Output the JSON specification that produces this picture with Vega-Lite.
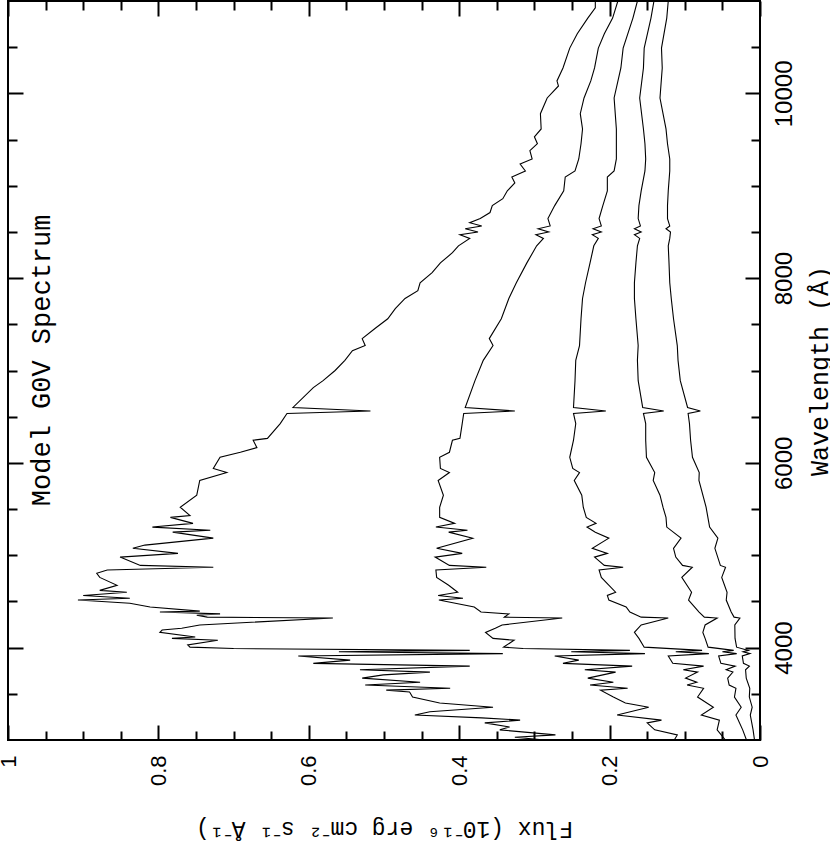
{
  "$schema": "https://vega.github.io/schema/vega-lite/v6.json",
  "width": 752,
  "height": 739,
  "autosize": "none",
  "padding": {"left": 8, "top": 1, "right": 70, "bottom": 104},
  "background": "white",
  "config": {
    "view": {"stroke": "black", "strokeWidth": 2},
    "axis": {"labelColor": "black", "tickColor": "black", "titleColor": "black", "grid": false}
  },
  "data": {
    "values": [
      {"s":1,"w":3000,"f":0.286},{"s":1,"w":3030,"f":0.326},{"s":1,"w":3055,"f":0.272},{"s":1,"w":3110,"f":0.346},{"s":1,"w":3140,"f":0.333},
      {"s":1,"w":3185,"f":0.366},{"s":1,"w":3215,"f":0.319},{"s":1,"w":3240,"f":0.370},{"s":1,"w":3270,"f":0.459},{"s":1,"w":3305,"f":0.439},
      {"s":1,"w":3355,"f":0.355},{"s":1,"w":3400,"f":0.426},{"s":1,"w":3465,"f":0.462},{"s":1,"w":3520,"f":0.466},{"s":1,"w":3540,"f":0.497},
      {"s":1,"w":3560,"f":0.412},{"s":1,"w":3595,"f":0.525},{"s":1,"w":3625,"f":0.452},{"s":1,"w":3670,"f":0.529},{"s":1,"w":3705,"f":0.501},
      {"s":1,"w":3735,"f":0.439},{"s":1,"w":3760,"f":0.532},{"s":1,"w":3800,"f":0.386},{"s":1,"w":3830,"f":0.594},{"s":1,"w":3865,"f":0.545},
      {"s":1,"w":3910,"f":0.614},{"s":1,"w":3935,"f":0.342},{"s":1,"w":3955,"f":0.560},{"s":1,"w":3970,"f":0.386},{"s":1,"w":3990,"f":0.700},
      {"s":1,"w":4005,"f":0.758},{"s":1,"w":4030,"f":0.761},{"s":1,"w":4080,"f":0.721},{"s":1,"w":4100,"f":0.782},{"s":1,"w":4115,"f":0.751},
      {"s":1,"w":4165,"f":0.798},{"s":1,"w":4190,"f":0.795},{"s":1,"w":4210,"f":0.769},{"s":1,"w":4245,"f":0.745},{"s":1,"w":4320,"f":0.568},
      {"s":1,"w":4330,"f":0.735},{"s":1,"w":4350,"f":0.749},{"s":1,"w":4365,"f":0.718},{"s":1,"w":4385,"f":0.798},{"s":1,"w":4395,"f":0.745},
      {"s":1,"w":4440,"f":0.811},{"s":1,"w":4480,"f":0.838},{"s":1,"w":4515,"f":0.907},{"s":1,"w":4535,"f":0.838},{"s":1,"w":4565,"f":0.900},
      {"s":1,"w":4600,"f":0.842},{"s":1,"w":4620,"f":0.878},{"s":1,"w":4675,"f":0.855},{"s":1,"w":4760,"f":0.878},{"s":1,"w":4805,"f":0.882},
      {"s":1,"w":4840,"f":0.868},{"s":1,"w":4870,"f":0.727},{"s":1,"w":4890,"f":0.824},{"s":1,"w":4980,"f":0.851},{"s":1,"w":5020,"f":0.774},
      {"s":1,"w":5075,"f":0.834},{"s":1,"w":5110,"f":0.818},{"s":1,"w":5185,"f":0.727},{"s":1,"w":5250,"f":0.781},{"s":1,"w":5270,"f":0.731},
      {"s":1,"w":5305,"f":0.808},{"s":1,"w":5345,"f":0.754},{"s":1,"w":5410,"f":0.784},{"s":1,"w":5430,"f":0.758},{"s":1,"w":5520,"f":0.771},
      {"s":1,"w":5650,"f":0.749},{"s":1,"w":5810,"f":0.745},{"s":1,"w":5895,"f":0.709},{"s":1,"w":5940,"f":0.727},{"s":1,"w":6060,"f":0.718},
      {"s":1,"w":6115,"f":0.691},{"s":1,"w":6165,"f":0.669},{"s":1,"w":6245,"f":0.674},{"s":1,"w":6265,"f":0.655},{"s":1,"w":6425,"f":0.638},
      {"s":1,"w":6535,"f":0.629},{"s":1,"w":6562,"f":0.518},{"s":1,"w":6600,"f":0.621},{"s":1,"w":6815,"f":0.594},{"s":1,"w":6890,"f":0.581},
      {"s":1,"w":7000,"f":0.565},{"s":1,"w":7110,"f":0.552},{"s":1,"w":7215,"f":0.542},{"s":1,"w":7270,"f":0.525},{"s":1,"w":7345,"f":0.529},
      {"s":1,"w":7455,"f":0.512},{"s":1,"w":7560,"f":0.495},{"s":1,"w":7670,"f":0.485},{"s":1,"w":7780,"f":0.472},{"s":1,"w":7865,"f":0.455},
      {"s":1,"w":7950,"f":0.452},{"s":1,"w":8060,"f":0.436},{"s":1,"w":8165,"f":0.425},{"s":1,"w":8275,"f":0.409},{"s":1,"w":8350,"f":0.401},
      {"s":1,"w":8430,"f":0.386},{"s":1,"w":8470,"f":0.399},{"s":1,"w":8500,"f":0.375},{"s":1,"w":8535,"f":0.392},{"s":1,"w":8565,"f":0.370},
      {"s":1,"w":8600,"f":0.386},{"s":1,"w":8645,"f":0.372},{"s":1,"w":8710,"f":0.359},{"s":1,"w":8785,"f":0.356},{"s":1,"w":8860,"f":0.342},
      {"s":1,"w":8945,"f":0.336},{"s":1,"w":9030,"f":0.326},{"s":1,"w":9095,"f":0.330},{"s":1,"w":9160,"f":0.312},{"s":1,"w":9235,"f":0.319},
      {"s":1,"w":9290,"f":0.303},{"s":1,"w":9380,"f":0.306},{"s":1,"w":9455,"f":0.296},{"s":1,"w":9530,"f":0.300},{"s":1,"w":9615,"f":0.291},
      {"s":1,"w":9780,"f":0.292},{"s":1,"w":9950,"f":0.283},{"s":1,"w":10080,"f":0.268},{"s":1,"w":10135,"f":0.270},{"s":1,"w":10275,"f":0.262},
      {"s":1,"w":10490,"f":0.253},{"s":1,"w":10645,"f":0.243},{"s":1,"w":10815,"f":0.229},{"s":1,"w":10925,"f":0.219},{"s":1,"w":11000,"f":0.219},

      {"s":2,"w":3000,"f":0.114},{"s":2,"w":3055,"f":0.110},{"s":2,"w":3110,"f":0.140},{"s":2,"w":3185,"f":0.150},{"s":2,"w":3215,"f":0.131},
      {"s":2,"w":3270,"f":0.190},{"s":2,"w":3355,"f":0.148},{"s":2,"w":3400,"f":0.179},{"s":2,"w":3465,"f":0.195},{"s":2,"w":3540,"f":0.212},
      {"s":2,"w":3560,"f":0.176},{"s":2,"w":3595,"f":0.226},{"s":2,"w":3625,"f":0.195},{"s":2,"w":3670,"f":0.229},{"s":2,"w":3735,"f":0.192},
      {"s":2,"w":3760,"f":0.233},{"s":2,"w":3800,"f":0.170},{"s":2,"w":3830,"f":0.262},{"s":2,"w":3865,"f":0.241},{"s":2,"w":3910,"f":0.273},
      {"s":2,"w":3935,"f":0.153},{"s":2,"w":3955,"f":0.251},{"s":2,"w":3970,"f":0.173},{"s":2,"w":3990,"f":0.315},{"s":2,"w":4005,"f":0.341},
      {"s":2,"w":4080,"f":0.327},{"s":2,"w":4100,"f":0.355},{"s":2,"w":4165,"f":0.365},{"s":2,"w":4210,"f":0.352},{"s":2,"w":4245,"f":0.343},
      {"s":2,"w":4320,"f":0.263},{"s":2,"w":4330,"f":0.340},{"s":2,"w":4365,"f":0.334},{"s":2,"w":4385,"f":0.371},{"s":2,"w":4440,"f":0.380},
      {"s":2,"w":4515,"f":0.427},{"s":2,"w":4535,"f":0.395},{"s":2,"w":4565,"f":0.428},{"s":2,"w":4600,"f":0.402},{"s":2,"w":4675,"f":0.414},
      {"s":2,"w":4760,"f":0.430},{"s":2,"w":4840,"f":0.431},{"s":2,"w":4870,"f":0.364},{"s":2,"w":4890,"f":0.413},{"s":2,"w":4980,"f":0.432},
      {"s":2,"w":5020,"f":0.396},{"s":2,"w":5075,"f":0.430},{"s":2,"w":5185,"f":0.382},{"s":2,"w":5250,"f":0.414},{"s":2,"w":5270,"f":0.389},
      {"s":2,"w":5305,"f":0.431},{"s":2,"w":5345,"f":0.406},{"s":2,"w":5410,"f":0.426},{"s":2,"w":5520,"f":0.426},{"s":2,"w":5650,"f":0.421},
      {"s":2,"w":5810,"f":0.428},{"s":2,"w":5895,"f":0.413},{"s":2,"w":5940,"f":0.425},{"s":2,"w":6060,"f":0.426},{"s":2,"w":6115,"f":0.413},
      {"s":2,"w":6245,"f":0.409},{"s":2,"w":6265,"f":0.399},{"s":2,"w":6425,"f":0.396},{"s":2,"w":6535,"f":0.394},{"s":2,"w":6562,"f":0.326},
      {"s":2,"w":6600,"f":0.392},{"s":2,"w":6890,"f":0.379},{"s":2,"w":7110,"f":0.368},{"s":2,"w":7270,"f":0.355},{"s":2,"w":7345,"f":0.360},
      {"s":2,"w":7560,"f":0.344},{"s":2,"w":7780,"f":0.334},{"s":2,"w":7950,"f":0.324},{"s":2,"w":8165,"f":0.310},{"s":2,"w":8350,"f":0.297},
      {"s":2,"w":8430,"f":0.288},{"s":2,"w":8470,"f":0.298},{"s":2,"w":8500,"f":0.281},{"s":2,"w":8535,"f":0.295},{"s":2,"w":8565,"f":0.279},
      {"s":2,"w":8645,"f":0.282},{"s":2,"w":8785,"f":0.273},{"s":2,"w":8945,"f":0.261},{"s":2,"w":9095,"f":0.259},{"s":2,"w":9160,"f":0.246},
      {"s":2,"w":9290,"f":0.241},{"s":2,"w":9455,"f":0.238},{"s":2,"w":9615,"f":0.236},{"s":2,"w":9780,"f":0.239},{"s":2,"w":9950,"f":0.234},
      {"s":2,"w":10135,"f":0.225},{"s":2,"w":10275,"f":0.220},{"s":2,"w":10490,"f":0.215},{"s":2,"w":10645,"f":0.207},{"s":2,"w":10815,"f":0.196},
      {"s":2,"w":11000,"f":0.189},

      {"s":3,"w":3000,"f":0.046},{"s":3,"w":3110,"f":0.057},{"s":3,"w":3215,"f":0.054},{"s":3,"w":3270,"f":0.078},{"s":3,"w":3355,"f":0.062},
      {"s":3,"w":3465,"f":0.083},{"s":3,"w":3560,"f":0.075},{"s":3,"w":3595,"f":0.097},{"s":3,"w":3625,"f":0.084},{"s":3,"w":3670,"f":0.099},
      {"s":3,"w":3735,"f":0.083},{"s":3,"w":3760,"f":0.102},{"s":3,"w":3800,"f":0.075},{"s":3,"w":3830,"f":0.116},{"s":3,"w":3910,"f":0.122},
      {"s":3,"w":3935,"f":0.068},{"s":3,"w":3955,"f":0.112},{"s":3,"w":3970,"f":0.077},{"s":3,"w":4005,"f":0.154},{"s":3,"w":4100,"f":0.161},
      {"s":3,"w":4165,"f":0.167},{"s":3,"w":4245,"f":0.158},{"s":3,"w":4320,"f":0.122},{"s":3,"w":4330,"f":0.158},{"s":3,"w":4385,"f":0.173},
      {"s":3,"w":4440,"f":0.178},{"s":3,"w":4515,"f":0.201},{"s":3,"w":4565,"f":0.203},{"s":3,"w":4600,"f":0.192},{"s":3,"w":4760,"f":0.211},
      {"s":3,"w":4840,"f":0.214},{"s":3,"w":4870,"f":0.182},{"s":3,"w":4890,"f":0.207},{"s":3,"w":4980,"f":0.220},{"s":3,"w":5020,"f":0.203},
      {"s":3,"w":5075,"f":0.223},{"s":3,"w":5185,"f":0.201},{"s":3,"w":5250,"f":0.219},{"s":3,"w":5305,"f":0.230},{"s":3,"w":5345,"f":0.218},
      {"s":3,"w":5410,"f":0.231},{"s":3,"w":5520,"f":0.235},{"s":3,"w":5650,"f":0.237},{"s":3,"w":5810,"f":0.247},{"s":3,"w":5895,"f":0.240},
      {"s":3,"w":5940,"f":0.249},{"s":3,"w":6060,"f":0.253},{"s":3,"w":6245,"f":0.248},{"s":3,"w":6425,"f":0.245},{"s":3,"w":6535,"f":0.248},
      {"s":3,"w":6562,"f":0.205},{"s":3,"w":6600,"f":0.248},{"s":3,"w":6890,"f":0.246},{"s":3,"w":7110,"f":0.245},{"s":3,"w":7270,"f":0.240},
      {"s":3,"w":7560,"f":0.238},{"s":3,"w":7780,"f":0.236},{"s":3,"w":7950,"f":0.232},{"s":3,"w":8165,"f":0.226},{"s":3,"w":8350,"f":0.221},
      {"s":3,"w":8430,"f":0.215},{"s":3,"w":8470,"f":0.223},{"s":3,"w":8500,"f":0.211},{"s":3,"w":8535,"f":0.222},{"s":3,"w":8565,"f":0.211},
      {"s":3,"w":8645,"f":0.214},{"s":3,"w":8785,"f":0.209},{"s":3,"w":8945,"f":0.203},{"s":3,"w":9095,"f":0.203},{"s":3,"w":9160,"f":0.194},
      {"s":3,"w":9290,"f":0.191},{"s":3,"w":9455,"f":0.191},{"s":3,"w":9615,"f":0.191},{"s":3,"w":9950,"f":0.194},{"s":3,"w":10275,"f":0.185},
      {"s":3,"w":10490,"f":0.182},{"s":3,"w":10815,"f":0.169},{"s":3,"w":11000,"f":0.163},

      {"s":4,"w":3000,"f":0.018},{"s":4,"w":3110,"f":0.023},{"s":4,"w":3270,"f":0.032},{"s":4,"w":3355,"f":0.025},{"s":4,"w":3465,"f":0.034},
      {"s":4,"w":3560,"f":0.032},{"s":4,"w":3595,"f":0.041},{"s":4,"w":3670,"f":0.043},{"s":4,"w":3735,"f":0.036},{"s":4,"w":3760,"f":0.045},
      {"s":4,"w":3800,"f":0.033},{"s":4,"w":3830,"f":0.052},{"s":4,"w":3910,"f":0.055},{"s":4,"w":3935,"f":0.031},{"s":4,"w":3955,"f":0.050},
      {"s":4,"w":3970,"f":0.035},{"s":4,"w":4005,"f":0.069},{"s":4,"w":4100,"f":0.073},{"s":4,"w":4165,"f":0.076},{"s":4,"w":4245,"f":0.073},
      {"s":4,"w":4320,"f":0.057},{"s":4,"w":4330,"f":0.074},{"s":4,"w":4385,"f":0.081},{"s":4,"w":4515,"f":0.095},{"s":4,"w":4600,"f":0.091},
      {"s":4,"w":4760,"f":0.104},{"s":4,"w":4870,"f":0.090},{"s":4,"w":4890,"f":0.103},{"s":4,"w":4980,"f":0.112},{"s":4,"w":5075,"f":0.115},
      {"s":4,"w":5185,"f":0.105},{"s":4,"w":5305,"f":0.124},{"s":4,"w":5410,"f":0.125},{"s":4,"w":5520,"f":0.129},{"s":4,"w":5650,"f":0.133},
      {"s":4,"w":5810,"f":0.142},{"s":4,"w":5895,"f":0.140},{"s":4,"w":6060,"f":0.151},{"s":4,"w":6245,"f":0.152},{"s":4,"w":6425,"f":0.152},
      {"s":4,"w":6535,"f":0.155},{"s":4,"w":6562,"f":0.128},{"s":4,"w":6600,"f":0.156},{"s":4,"w":6890,"f":0.162},{"s":4,"w":7110,"f":0.163},
      {"s":4,"w":7270,"f":0.162},{"s":4,"w":7560,"f":0.165},{"s":4,"w":7780,"f":0.167},{"s":4,"w":7950,"f":0.167},{"s":4,"w":8165,"f":0.165},
      {"s":4,"w":8350,"f":0.163},{"s":4,"w":8430,"f":0.160},{"s":4,"w":8470,"f":0.167},{"s":4,"w":8500,"f":0.158},{"s":4,"w":8535,"f":0.167},
      {"s":4,"w":8565,"f":0.159},{"s":4,"w":8645,"f":0.162},{"s":4,"w":8785,"f":0.161},{"s":4,"w":8945,"f":0.158},{"s":4,"w":9160,"f":0.153},
      {"s":4,"w":9290,"f":0.152},{"s":4,"w":9455,"f":0.153},{"s":4,"w":9615,"f":0.155},{"s":4,"w":9950,"f":0.160},{"s":4,"w":10275,"f":0.155},
      {"s":4,"w":10490,"f":0.154},{"s":4,"w":10815,"f":0.145},{"s":4,"w":11000,"f":0.141},

      {"s":5,"w":3000,"f":0.0073},{"s":5,"w":3110,"f":0.0092},{"s":5,"w":3270,"f":0.0129},{"s":5,"w":3355,"f":0.0104},{"s":5,"w":3465,"f":0.0142},
      {"s":5,"w":3560,"f":0.0136},{"s":5,"w":3670,"f":0.0183},{"s":5,"w":3760,"f":0.0192},{"s":5,"w":3800,"f":0.0141},{"s":5,"w":3830,"f":0.022},
      {"s":5,"w":3910,"f":0.0236},{"s":5,"w":3935,"f":0.0133},{"s":5,"w":3955,"f":0.0224},{"s":5,"w":3970,"f":0.0154},{"s":5,"w":4005,"f":0.0311},
      {"s":5,"w":4100,"f":0.0332},{"s":5,"w":4245,"f":0.0335},{"s":5,"w":4320,"f":0.0267},{"s":5,"w":4330,"f":0.0345},{"s":5,"w":4385,"f":0.0383},
      {"s":5,"w":4515,"f":0.0449},{"s":5,"w":4600,"f":0.0438},{"s":5,"w":4760,"f":0.0509},{"s":5,"w":4870,"f":0.0458},{"s":5,"w":4890,"f":0.0527},
      {"s":5,"w":5075,"f":0.060},{"s":5,"w":5185,"f":0.056},{"s":5,"w":5305,"f":0.067},{"s":5,"w":5520,"f":0.0717},{"s":5,"w":5810,"f":0.0812},
      {"s":5,"w":5895,"f":0.0808},{"s":5,"w":6060,"f":0.0898},{"s":5,"w":6245,"f":0.0923},{"s":5,"w":6425,"f":0.0938},{"s":5,"w":6535,"f":0.0956},
      {"s":5,"w":6562,"f":0.0793},{"s":5,"w":6600,"f":0.0963},{"s":5,"w":6890,"f":0.106},{"s":5,"w":7110,"f":0.109},{"s":5,"w":7270,"f":0.110},
      {"s":5,"w":7560,"f":0.115},{"s":5,"w":7780,"f":0.118},{"s":5,"w":7950,"f":0.120},{"s":5,"w":8165,"f":0.121},{"s":5,"w":8350,"f":0.122},
      {"s":5,"w":8430,"f":0.120},{"s":5,"w":8500,"f":0.119},{"s":5,"w":8535,"f":0.125},{"s":5,"w":8565,"f":0.120},{"s":5,"w":8645,"f":0.123},
      {"s":5,"w":8785,"f":0.123},{"s":5,"w":8945,"f":0.122},{"s":5,"w":9160,"f":0.120},{"s":5,"w":9290,"f":0.120},{"s":5,"w":9455,"f":0.123},
      {"s":5,"w":9615,"f":0.125},{"s":5,"w":9950,"f":0.133},{"s":5,"w":10275,"f":0.130},{"s":5,"w":10490,"f":0.131},{"s":5,"w":10815,"f":0.124},
      {"s":5,"w":11000,"f":0.122}
    ]
  },
  "resolve": {"axis": {"x": "independent", "y": "independent"}},
  "layer": [
    {
      "mark": {"type": "line", "color": "black", "strokeWidth": 1.1, "clip": true},
      "encoding": {
        "x": {
          "field": "f", "type": "quantitative",
          "scale": {"domain": [0, 1], "reverse": true, "nice": false, "zero": false},
          "axis": {
            "orient": "bottom", "values": [0, 0.2, 0.4, 0.6, 0.8, 1], "format": "~g",
            "ticks": false, "tickSize": 0, "domain": false,
            "labelAngle": 270, "labelAlign": "right", "labelBaseline": "middle",
            "labelPadding": 15, "labelFontSize": 22, "labelFont": "Liberation Sans",
            "labelFlush": false, "labelOverlap": false,
            "title": "Flux  (10⁻¹⁶ erg cm⁻² s⁻¹  Å⁻¹)",
            "titleAngle": 180, "titleBaseline": "bottom", "titleFont": "Liberation Mono",
            "titleFontSize": 23, "titleFontWeight": "normal", "titlePadding": 31
          }
        },
        "y": {
          "field": "w", "type": "quantitative",
          "scale": {"domain": [3000, 11000], "nice": false, "zero": false},
          "axis": {
            "orient": "right", "values": [4000, 6000, 8000, 10000], "format": "d",
            "ticks": false, "tickSize": 0, "domain": false,
            "labelAngle": 270, "labelAlign": "center", "labelBaseline": "top",
            "labelPadding": 12, "labelFontSize": 24, "labelFont": "Liberation Sans",
            "labelFlush": false, "labelOverlap": false,
            "title": "Wavelength (Å)",
            "titleAngle": 270, "titleBaseline": "top", "titleFont": "Liberation Mono",
            "titleFontSize": 25, "titleFontWeight": "normal", "titlePadding": 11
          }
        },
        "detail": {"field": "s", "type": "nominal"},
        "order": {"field": "w", "type": "quantitative"}
      }
    },
    {
      "data": {"values": [{"f": 0, "w": 3000}]},
      "mark": {"type": "point", "opacity": 0},
      "encoding": {
        "x": {"field": "f", "type": "quantitative", "axis": {"orient": "bottom", "values": [0, 0.2, 0.4, 0.6, 0.8, 1], "labels": false, "domain": false, "tickSize": 15, "tickWidth": 2, "offset": -15, "title": null}},
        "y": {"field": "w", "type": "quantitative", "axis": {"orient": "right", "values": [4000, 6000, 8000, 10000], "labels": false, "domain": false, "tickSize": 15, "tickWidth": 2, "offset": -15, "title": null}}
      }
    },
    {
      "data": {"values": [{"f": 0, "w": 3000}]},
      "mark": {"type": "point", "opacity": 0},
      "encoding": {
        "x": {"field": "f", "type": "quantitative", "axis": {"orient": "bottom", "values": [0.05, 0.1, 0.15, 0.25, 0.3, 0.35, 0.45, 0.5, 0.55, 0.65, 0.7, 0.75, 0.85, 0.9, 0.95], "labels": false, "domain": false, "tickSize": 9, "tickWidth": 2, "offset": -9, "title": null}},
        "y": {"field": "w", "type": "quantitative", "axis": {"orient": "right", "values": [3500, 4500, 5000, 5500, 6500, 7000, 7500, 8500, 9000, 9500, 10500], "labels": false, "domain": false, "tickSize": 9, "tickWidth": 2, "offset": -9, "title": null}}
      }
    },
    {
      "data": {"values": [{"f": 0, "w": 3000}]},
      "mark": {"type": "point", "opacity": 0},
      "encoding": {
        "x": {"field": "f", "type": "quantitative", "axis": {"orient": "top", "values": [0, 0.2, 0.4, 0.6, 0.8, 1], "labels": false, "domain": false, "tickSize": 15, "tickWidth": 2, "offset": -15, "title": null}},
        "y": {"field": "w", "type": "quantitative", "axis": {"orient": "left", "values": [4000, 6000, 8000, 10000], "labels": false, "domain": false, "tickSize": 15, "tickWidth": 2, "offset": -15, "title": null}}
      }
    },
    {
      "data": {"values": [{"f": 0, "w": 3000}]},
      "mark": {"type": "point", "opacity": 0},
      "encoding": {
        "x": {"field": "f", "type": "quantitative", "axis": {"orient": "top", "values": [0.05, 0.1, 0.15, 0.25, 0.3, 0.35, 0.45, 0.5, 0.55, 0.65, 0.7, 0.75, 0.85, 0.9, 0.95], "labels": false, "domain": false, "tickSize": 9, "tickWidth": 2, "offset": -9, "title": null}},
        "y": {"field": "w", "type": "quantitative", "axis": {"orient": "left", "values": [3500, 4500, 5000, 5500, 6500, 7000, 7500, 8500, 9000, 9500, 10500], "labels": false, "domain": false, "tickSize": 9, "tickWidth": 2, "offset": -9, "title": null}}
      }
    },
    {
      "data": {"values": [{"label": "Model G0V Spectrum"}]},
      "mark": {"type": "text", "angle": 270, "align": "center", "baseline": "alphabetic", "font": "Liberation Mono", "fontSize": 27, "color": "black"},
      "encoding": {
        "x": {"datum": 0.944, "type": "quantitative", "axis": null},
        "y": {"datum": 7110, "type": "quantitative", "axis": null},
        "text": {"field": "label"}
      }
    }
  ]
}
